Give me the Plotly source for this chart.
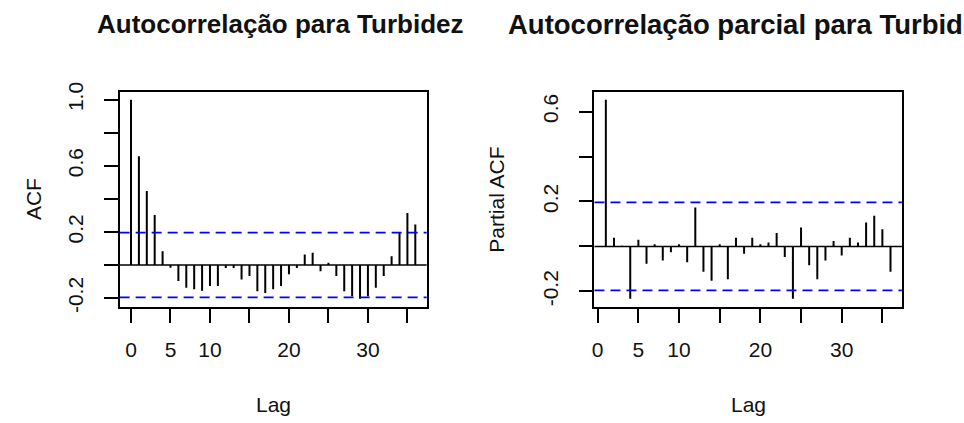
import plotly.graph_objects as go

# Sample autocorrelation (lags 0..36) and partial autocorrelation (lags 1..36) of Turbidez
acf_lags = list(range(0, 37))
acf_vals = [1.000, 0.658, 0.447, 0.303, 0.084, -0.016, -0.097, -0.138, -0.146, -0.156,
            -0.126, -0.126, -0.018, -0.018, -0.088, -0.066, -0.158, -0.169, -0.146, -0.126,
            -0.056, -0.018, 0.064, 0.074, -0.037, 0.014, -0.066, -0.158, -0.189, -0.204,
            -0.189, -0.138, -0.066, 0.053, 0.198, 0.315, 0.245]

pacf_lags = list(range(1, 37))
pacf_vals = [0.653, 0.039, 0.003, -0.233, 0.030, -0.077, 0.010, -0.063, -0.026, 0.010,
             -0.070, 0.173, -0.113, -0.153, 0.010, -0.146, 0.039, -0.033, 0.039, 0.010,
             0.017, 0.060, -0.047, -0.233, 0.084, -0.084, -0.146, -0.063, 0.024, -0.040,
             0.039, 0.017, 0.106, 0.136, 0.076, -0.113]

conf_limit = 0.196  # approximate 95% white-noise bound

x_ticks = [0, 5, 10, 15, 20, 25, 30, 35]
x_ticktext = ["0", "5", "10", "", "20", "", "30", ""]
acf_yticks = [-0.2, 0.0, 0.2, 0.4, 0.6, 0.8, 1.0]
acf_yticktext = ["-0.2", "", "0.2", "", "0.6", "", "1.0"]
pacf_yticks = [-0.2, 0.0, 0.2, 0.4, 0.6]
pacf_yticktext = ["-0.2", "", "0.2", "", "0.6"]

titles = ["Autocorrelação para Turbidez", "Autocorrelação parcial para Turbidez"]
y_titles = ["ACF", "Partial ACF"]
x_title = "Lag"

W, H = 964, 423
FONT = "Liberation Sans, Arial, sans-serif"
TEXT = "#111111"


def padded(lo, hi, frac=0.04):
    d = (hi - lo) * frac
    return [lo - d, hi + d]


def spikes(lags, vals):
    xs, ys = [], []
    for k, v in zip(lags, vals):
        xs += [k, k, None]
        ys += [0, v, None]
    return xs, ys


# plot regions in pixels: (left, right, top, bottom)
panels = [(117, 425, 85.7, 308.7), (593.3, 901.7, 85.7, 308.7)]
# title placement: (x in px, anchor, font size); the long right title runs off the page edge
title_pos = [(278, "center", 26), (505, "left", 27.5)]
ytitle_x = [30, 495]

fig = go.Figure()

series = [(acf_lags, acf_vals, acf_yticks, acf_yticktext),
          (pacf_lags, pacf_vals, pacf_yticks, pacf_yticktext)]

shapes = []
annotations = []
for i, ((lags, vals, yt, ytt), (pl, pr, pt, pb)) in enumerate(zip(series, panels)):
    xa = "x" if i == 0 else "x2"
    ya = "y" if i == 0 else "y2"
    xr = padded(min(lags), max(lags))
    yr = padded(min(min(vals), -conf_limit), max(max(vals), conf_limit))
    xs, ys = spikes(lags, vals)
    fig.add_trace(go.Scatter(x=xs, y=ys, mode="lines", xaxis=xa, yaxis=ya,
                             line=dict(color="black", width=2), hoverinfo="skip",
                             showlegend=False))
    axis_common = dict(showline=True, mirror=True, linecolor="black", linewidth=1.5,
                       ticks="outside", ticklen=14, tickwidth=1.5, tickcolor="black",
                       showgrid=False, zeroline=False,
                       tickfont=dict(family=FONT, size=21, color=TEXT))
    fig.update_layout(**{
        ("xaxis" if i == 0 else "xaxis2"): dict(
            domain=[pl / W, pr / W], range=xr, anchor=ya,
            tickmode="array", tickvals=x_ticks, ticktext=x_ticktext,
            ticklabelstandoff=9, **axis_common),
        ("yaxis" if i == 0 else "yaxis2"): dict(
            domain=[1 - pb / H, 1 - pt / H], range=yr, anchor=xa,
            tickmode="array", tickvals=yt, ticktext=ytt, tickangle=-90,
            ticklabelstandoff=12, **axis_common),
    })
    # zero line and confidence bounds
    shapes.append(dict(type="line", xref=xa + " domain", yref=ya, x0=0, x1=1, y0=0, y1=0,
                       line=dict(color="black", width=1.5), layer="below"))
    for c in (conf_limit, -conf_limit):
        shapes.append(dict(type="line", xref=xa + " domain", yref=ya, x0=0, x1=1,
                           y0=c, y1=c, line=dict(color="#0000FF", width=1.8,
                                                 dash="10px,6px")))
    cx = (pl + pr) / 2
    tx, tanchor, tsize = title_pos[i]
    annotations.append(dict(text="<b>" + titles[i] + "</b>", xref="paper", yref="paper",
                            x=tx / W, y=1 - 16 / H, xanchor=tanchor, yanchor="middle",
                            showarrow=False,
                            font=dict(family=FONT, size=tsize, color=TEXT)))
    annotations.append(dict(text=x_title, xref="paper", yref="paper",
                            x=cx / W, y=1 - 410 / H, xanchor="center", yanchor="middle",
                            showarrow=False, font=dict(family=FONT, size=21, color=TEXT)))
    annotations.append(dict(text=y_titles[i], xref="paper", yref="paper",
                            x=ytitle_x[i] / W, y=1 - ((pt + pb) / 2) / H, xanchor="center",
                            yanchor="middle", textangle=-90, showarrow=False,
                            font=dict(family=FONT, size=21, color=TEXT)))

fig.update_layout(width=W, height=H, margin=dict(l=0, r=0, t=0, b=0),
                  paper_bgcolor="white", plot_bgcolor="white",
                  shapes=shapes, annotations=annotations)

fig.write_html("out.html")
